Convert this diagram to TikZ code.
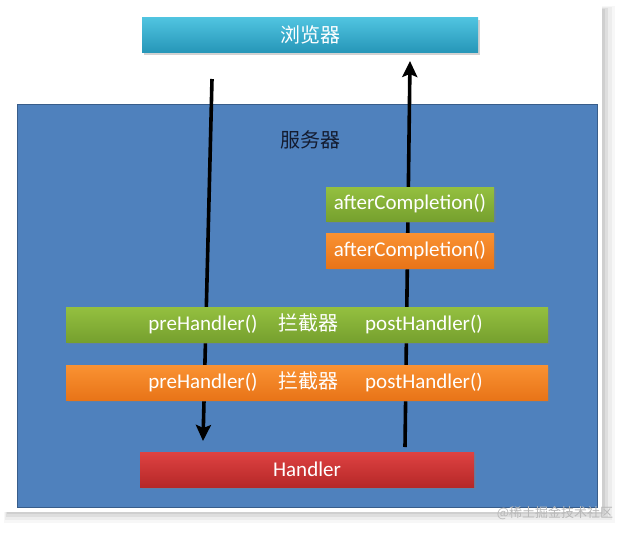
\documentclass[tikz,border=0pt]{standalone}
\usepackage{fontspec}
\setmainfont{Carlito}
\newfontfamily\cjk{Noto Sans CJK SC}
\usepackage{tikz}
\usetikzlibrary{arrows.meta,shadows}

\begin{document}
\begin{tikzpicture}[x=1pt, y=-1pt,
  bar/.style={inner sep=0pt, minimum height=35pt, drop shadow={opacity=0.35, shadow xshift=1.5pt, shadow yshift=-2pt}},
  label/.style={text=white, font=\fontsize{21}{23}\selectfont},
  zh/.style={text=white, font=\cjk\fontsize{20}{22}\selectfont},
  flow/.style={line width=3.6pt, -{Stealth[length=16pt, width=15pt, inset=3pt]}}]
\useasboundingbox (0,0) rectangle (626,536);
% page with its shadow
\fill[white] (0,0) rectangle (626,536);
\fill[gray!6] (4,6) rectangle (615,523);
\fill[gray!14] (5,7) rectangle (612,520);
\fill[gray!26] (6,8) rectangle (608,517);
\fill[gray!38] (7,9) rectangle (605,514);
\fill[white] (0,0) rectangle (602,512);
% server and the request path behind the bars
\node [draw={rgb,255:red,56;green,93;blue,138}, line width=1pt, fill={rgb,255:red,79;green,129;blue,189}, minimum width=580pt, minimum height=403pt, inner sep=0pt] (server) at (307,305.5) {};
\node [text={rgb,255:red,20;green,28;blue,48}, font=\cjk\fontsize{20}{22}\selectfont] (server_t) at (310,140) {服务器};
\coordinate (req_a) at (212,79);
\coordinate (req_b) at (203,441);
\coordinate (resp_a) at (405,447);
\coordinate (resp_b) at (410,61);
\draw [flow] (req_a) -- (req_b);
\draw [flow] (resp_a) -- (resp_b);
% boxes
\node [bar, minimum width=336pt, top color={rgb,255:red,80;green,196;blue,224}, bottom color={rgb,255:red,38;green,150;blue,184}] (browser) at (310,35) {};
\node [zh] at (browser) {浏览器};
\node [bar, minimum width=168pt, minimum height=34pt, top color={rgb,255:red,148;green,192;blue,64}, bottom color={rgb,255:red,118;green,160;blue,46}] (after_g) at (410,204) {};
\node [label] at (after_g) {afterCompletion()};
\node [bar, minimum width=168pt, top color={rgb,255:red,250;green,146;blue,50}, bottom color={rgb,255:red,232;green,116;blue,24}] (after_o) at (410,250.5) {};
\node [label] at (after_o) {afterCompletion()};
\node [bar, minimum width=482pt, top color={rgb,255:red,148;green,192;blue,64}, bottom color={rgb,255:red,118;green,160;blue,46}] (chain_g) at (307,324.5) {};
\node [label] (pre_g) at (203,325) {preHandler()};
\node [zh] (icpt_g) at (308,323) {拦截器};
\node [label] (post_g) at (424,325) {postHandler()};
\node [bar, minimum width=482pt, top color={rgb,255:red,250;green,146;blue,50}, bottom color={rgb,255:red,232;green,116;blue,24}] (chain_o) at (307,382.5) {};
\node [label] (pre_o) at (203,383) {preHandler()};
\node [zh] (icpt_o) at (308,381) {拦截器};
\node [label] (post_o) at (424,383) {postHandler()};
\node [bar, minimum width=334pt, top color={rgb,255:red,222;green,66;blue,66}, bottom color={rgb,255:red,182;green,40;blue,40}] (handler) at (307,469.5) {};
\node [label] at (handler) {Handler};
% watermark
\node [text=gray!55, font=\cjk\fontsize{13}{14}\selectfont] (mark) at (555,513) {@稀土掘金技术社区};
\end{tikzpicture}
\end{document}
